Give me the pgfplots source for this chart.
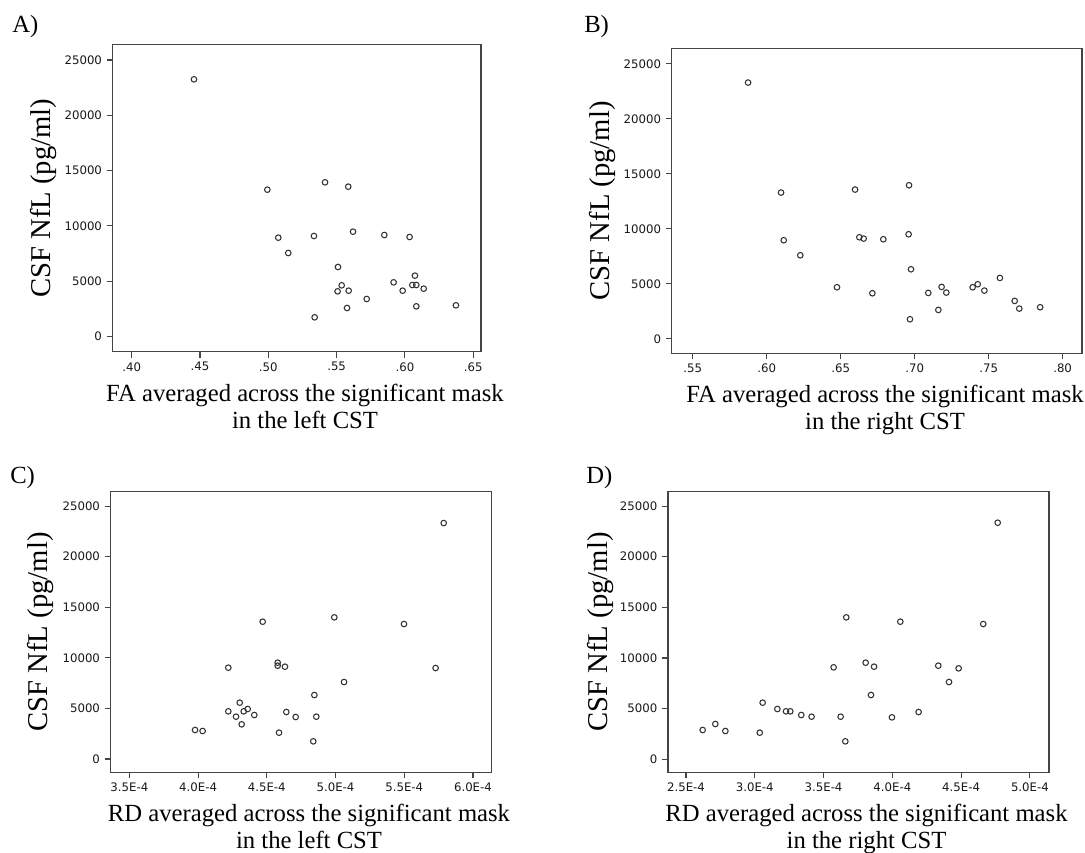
\documentclass[border=0pt]{standalone}
\usepackage{fontspec}
\setmainfont{Liberation Serif}
\newfontfamily\ticksf{DejaVu Sans}
\usepackage{pgfplots}
\pgfplotsset{compat=1.18}
\definecolor{frame}{HTML}{444444}
\definecolor{dot}{HTML}{333333}

\pgfplotsset{spss/.style={
  scale only axis, clip=false, scaled ticks=false,
  axis line style={draw=frame,line width=1pt},
  tick align=outside, xtick pos=left, ytick pos=left,
  major tick length=4.5pt,
  tick style={draw=frame,line width=0.8pt},
  tick label style={font=\ticksf\fontsize{8.8}{10}\selectfont,text=black!90},
  ytick={0,5000,10000,15000,20000,25000},
  yticklabels={0,5000,10000,15000,20000,25000}},
  pts/.style={only marks,mark=o,mark size=2.1pt,draw=dot,
    mark options={draw=dot,fill=none,line width=0.8pt}}}
\newcommand{\lab}{\fontsize{18.5}{21}\selectfont}
\newcommand{\ylab}{\fontsize{21.5}{24}\selectfont}

\begin{document}
\begin{tikzpicture}[x=0.75pt,y=0.75pt]
\useasboundingbox (0,0) rectangle (1085,853);

% A: FA left CST
\begin{axis}[spss,at={(84.5pt,376pt)},anchor=south west,width=276.2pt,height=230.25pt,
  xmin=0.3861,xmax=0.6556,ymin=-1387,ymax=26388,
  xtick={0.40,0.45,0.50,0.55,0.60,0.65},xticklabels={.40,.45,.50,.55,.60,.65}]
\addplot[pts] coordinates {(0.4456,23251) (0.4993,13269) (0.5415,13932) (0.5585,13540)
 (0.5073,8926) (0.5334,9077) (0.5146,7539) (0.5620,9469) (0.5849,9168) (0.6034,8987)
 (0.5510,6273) (0.5537,4614) (0.5507,4071) (0.5588,4131) (0.5720,3378) (0.5576,2563)
 (0.5339,1719) (0.5917,4885) (0.5983,4131) (0.6073,5489) (0.6054,4644) (0.6083,4644)
 (0.6137,4312) (0.6083,2714) (0.6373,2805)};
\end{axis}

% B: FA right CST
\begin{axis}[spss,at={(503.8pt,374.8pt)},anchor=south west,width=307.7pt,height=228.75pt,
  xmin=0.5358,xmax=0.8131,ymin=-1303,ymax=26424,
  xtick={0.55,0.60,0.65,0.70,0.75,0.80},xticklabels={.55,.60,.65,.70,.75,.80}]
\addplot[pts] coordinates {(0.5874,23303) (0.6097,13303) (0.6115,8970) (0.6227,7606)
 (0.6475,4697) (0.6597,13576) (0.6626,9242) (0.6655,9121) (0.6788,9061) (0.6714,4152)
 (0.6962,13970) (0.6959,9515) (0.6975,6333) (0.6968,1788) (0.7092,4182) (0.7182,4727)
 (0.7214,4212) (0.7160,2636) (0.7392,4697) (0.7426,4970) (0.7471,4394) (0.7576,5545)
 (0.7676,3455) (0.7707,2758) (0.7848,2879)};
\end{axis}

% C: RD left CST
\begin{axis}[spss,at={(83pt,60.5pt)},anchor=south west,width=285.75pt,height=210.45pt,
  xmin=3.364e-4,xmax=6.136e-4,ymin=-1318,ymax=26416,
  xtick={3.5e-4,4.0e-4,4.5e-4,5.0e-4,5.5e-4,6.0e-4},
  xticklabels={3.5E-4,4.0E-4,4.5E-4,5.0E-4,5.5E-4,6.0E-4}]
\addplot[pts] coordinates {(5.787e-4,23320) (4.470e-4,13570) (4.991e-4,13999) (5.498e-4,13340)
 (4.220e-4,9025) (4.579e-4,9519) (4.579e-4,9223) (4.632e-4,9124) (5.728e-4,8992)
 (5.062e-4,7609) (4.846e-4,6324) (4.303e-4,5567) (4.220e-4,4710) (4.332e-4,4710)
 (4.361e-4,4941) (4.409e-4,4348) (4.276e-4,4183) (4.317e-4,3426) (4.642e-4,4644)
 (4.710e-4,4150) (4.860e-4,4183) (3.978e-4,2866) (4.033e-4,2767) (4.589e-4,2602)
 (4.838e-4,1746)};
\end{axis}

% D: RD right CST
\begin{axis}[spss,at={(501pt,60.5pt)},anchor=south west,width=285.75pt,height=210.45pt,
  xmin=2.369e-4,xmax=5.139e-4,ymin=-1283,ymax=26414,
  xtick={2.5e-4,3.0e-4,3.5e-4,4.0e-4,4.5e-4,5.0e-4},
  xticklabels={2.5E-4,3.0E-4,3.5E-4,4.0E-4,4.5E-4,5.0E-4}]
\addplot[pts] coordinates {(2.621e-4,2895) (2.713e-4,3487) (2.786e-4,2796) (3.036e-4,2632)
 (3.057e-4,5592) (3.164e-4,4967) (3.227e-4,4737) (3.258e-4,4737) (3.338e-4,4375)
 (3.413e-4,4211) (3.573e-4,9079) (3.624e-4,4211) (3.658e-4,1776) (3.665e-4,14013)
 (3.806e-4,9539) (3.867e-4,9145) (3.845e-4,6349) (3.997e-4,4145) (4.058e-4,13586)
 (4.191e-4,4671) (4.334e-4,9243) (4.482e-4,8980) (4.412e-4,7632) (4.661e-4,13355)
 (4.766e-4,23355)};
\end{axis}

% panel letters
\node[anchor=base west,inner sep=0pt,font=\fontsize{18.5}{20}\selectfont] at (12,820) {A)};
\node[anchor=base west,inner sep=0pt,font=\fontsize{18.5}{20}\selectfont] at (584,820) {B)};
\node[anchor=base west,inner sep=0pt,font=\fontsize{18.5}{20}\selectfont] at (10,369) {C)};
\node[anchor=base west,inner sep=0pt,font=\fontsize{18.5}{20}\selectfont] at (586,369) {D)};

% y labels
\node[rotate=90,inner sep=0pt,font=\ylab] at (43,654.8) {CSF NfL (pg/ml)};
\node[rotate=90,inner sep=0pt,font=\ylab] at (602,652.2) {CSF NfL (pg/ml)};
\node[rotate=90,inner sep=0pt,font=\ylab] at (41,221) {CSF NfL (pg/ml)};
\node[rotate=90,inner sep=0pt,font=\ylab] at (600,221) {CSF NfL (pg/ml)};

% x labels
\node[anchor=base,inner sep=0pt,font=\lab] at (305,451.3) {FA averaged across the significant mask};
\node[anchor=base,inner sep=0pt,font=\lab] at (305,424) {in the left CST};
\node[anchor=base,inner sep=0pt,font=\lab] at (885,450) {FA averaged across the significant mask};
\node[anchor=base,inner sep=0pt,font=\lab] at (885,423) {in the right CST};
\node[anchor=base,inner sep=0pt,font=\lab] at (309,31.3) {RD averaged across the significant mask};
\node[anchor=base,inner sep=0pt,font=\lab] at (309,4) {in the left CST};
\node[anchor=base,inner sep=0pt,font=\lab] at (866.5,31.3) {RD averaged across the significant mask};
\node[anchor=base,inner sep=0pt,font=\lab] at (866.5,4) {in the right CST};
\end{tikzpicture}
\end{document}
